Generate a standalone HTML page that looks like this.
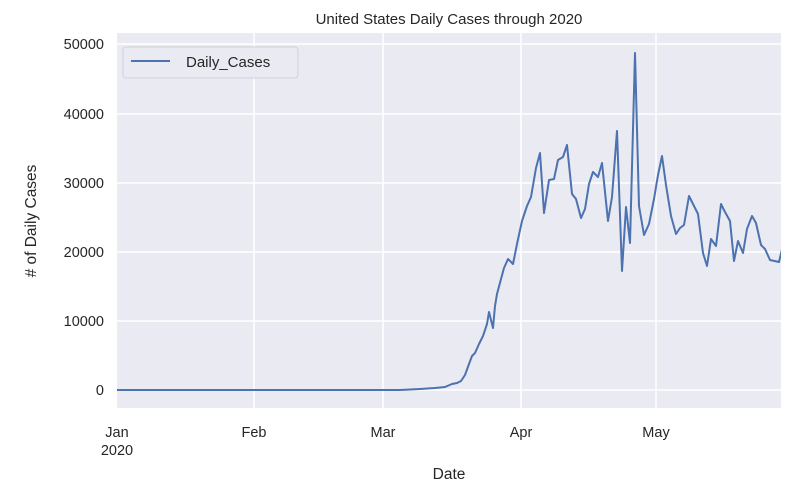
<!DOCTYPE html>
<html><head><meta charset="utf-8"><style>
body{margin:0;background:#fff}
text{font-family:"Liberation Sans",sans-serif;fill:#262626}
</style></head><body>
<svg width="804" height="498" viewBox="0 0 804 498" xmlns="http://www.w3.org/2000/svg">
<defs><clipPath id="c"><rect x="117" y="33" width="664" height="375"/></clipPath></defs>
<rect x="117" y="33" width="664" height="375" fill="#eaeaf2"/>
<g stroke="#fff" stroke-width="1.5">
<line x1="117" x2="781" y1="390" y2="390"/><line x1="117" x2="781" y1="321" y2="321"/>
<line x1="117" x2="781" y1="252" y2="252"/><line x1="117" x2="781" y1="183" y2="183"/>
<line x1="117" x2="781" y1="114" y2="114"/><line x1="117" x2="781" y1="44" y2="44"/>
<line x1="254" x2="254" y1="33" y2="408"/><line x1="383" x2="383" y1="33" y2="408"/>
<line x1="521" x2="521" y1="33" y2="408"/><line x1="656" x2="656" y1="33" y2="408"/>
</g>
<polyline clip-path="url(#c)" fill="none" stroke="#4c72b0" stroke-width="2" stroke-linejoin="round"
points="117,390 400,390 420,389 435,388 445,387 452,384 457,383 461,381 465,375 469,364 472,356 475,353 479,344 483,336 487,324 489,312 491,320 493,328 495,306 497,294 501,279 504,268 508,259 513,264 517,244 522,221 527,206 531,197 536,168 540,153 544,213 549,180 554,179 558,160 563,157 567,145 572,194 576,199 581,218 585,209 589,184 593,172 598,177 602,163 608,221 612,197 617,131 622,271 626,207 630,243 635,53 639,206 644,235 649,224 654,199 658,175 662,156 666,185 671,216 676,234 680,228 684,225 689,196 693,204 698,214 703,253 707,266 711,239 716,246 721,204 725,212 730,221 734,261 738,241 743,253 747,229 752,216 756,223 761,245 765,249 770,260 779,262 784,241"/>
<rect x="123" y="47" width="175" height="31" rx="3" fill="#eaeaf2" stroke="#d0d0d8" stroke-width="1"/>
<line x1="131" x2="170" y1="61" y2="61" stroke="#4c72b0" stroke-width="2"/>
<text x="186" y="67" font-size="15">Daily_Cases</text>
<g font-size="14.5" text-anchor="end">
<text x="104" y="395">0</text><text x="104" y="326">10000</text><text x="104" y="257">20000</text>
<text x="104" y="188">30000</text><text x="104" y="119">40000</text><text x="104" y="49">50000</text>
</g>
<g font-size="14.5" text-anchor="middle">
<text x="117" y="437">Jan</text><text x="117" y="455">2020</text>
<text x="254" y="437">Feb</text><text x="383" y="437">Mar</text>
<text x="521" y="437">Apr</text><text x="656" y="437">May</text>
<text x="449" y="479" font-size="15.5">Date</text>
<text x="449" y="24" font-size="15">United States Daily Cases through 2020</text>
</g>
<text transform="translate(36,221) rotate(-90)" font-size="15.5" text-anchor="middle"># of Daily Cases</text>
</svg>
</body></html>
